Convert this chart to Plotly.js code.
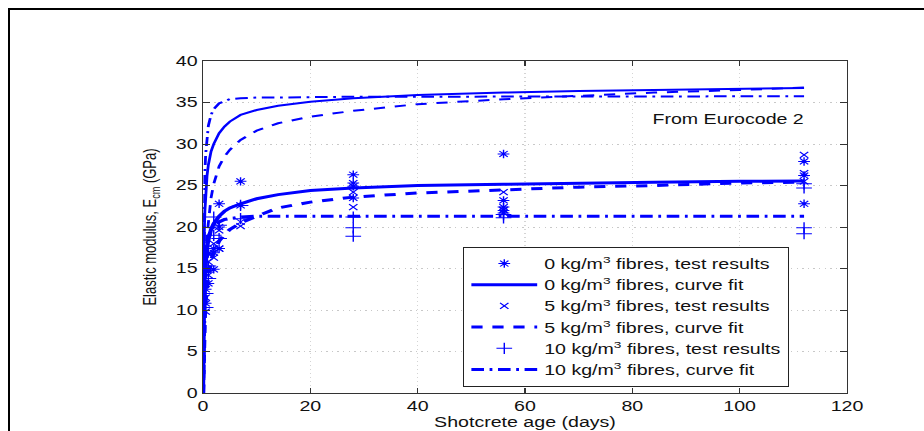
<!DOCTYPE html>
<html>
<head>
<meta charset="utf-8">
<script src="https://cdn.plot.ly/plotly-3.0.1.min.js"></script>
<style>
  html, body { margin: 0; padding: 0; background: #fff; width: 924px; height: 431px; overflow: hidden; }
  #wrap { position: absolute; left: 0; top: 0; width: 660px; height: 431px; transform: scaleX(1.4); transform-origin: 0 0; }
  #plot { width: 660px; height: 431px; }
  #frame { position: absolute; left: 8px; top: 8px; width: 1000px; height: 1000px; border: 2px solid #000; pointer-events: none; }
</style>
</head>
<body>
<div id="wrap"><div id="plot"></div></div>
<div id="frame"></div>
<script>
// Curve-fit ages (days)
const tFit = [0, 0.02, 0.05, 0.1, 0.2, 0.35, 0.5, 0.75, 1, 1.5, 2, 3, 4, 5, 7, 10, 14, 20, 28, 40, 56, 70, 84, 100, 112];

// Eurocode 2 curves (upper group)
const ec2Solid   = [0, 4.0, 8.5, 13.9, 18.5, 21.9, 24.1, 26.2, 27.5, 29.1, 30.0, 31.3, 32.1, 32.7, 33.5, 34.1, 34.6, 35.1, 35.5, 35.9, 36.2, 36.4, 36.5, 36.65, 36.75];
const ec2Dashed  = [0, 0.6, 2.5, 5.5, 9.7, 13.5, 16.0, 19.0, 21.0, 23.5, 25.2, 27.3, 28.5, 29.3, 30.5, 31.6, 32.5, 33.3, 34.0, 34.8, 35.4, 35.8, 36.2, 36.5, 36.8];
const ec2DashDot = [0, 3.0, 8.0, 15.0, 22.0, 26.5, 28.8, 31.0, 32.2, 33.5, 34.2, 34.9, 35.2, 35.4, 35.5, 35.6, 35.6, 35.65, 35.7, 35.7, 35.7, 35.7, 35.75, 35.75, 35.75];

// Curve fits to test results (lower group)
const fit0  = [0, 2.5, 5.0, 8.5, 12.0, 14.5, 16.0, 17.5, 18.5, 19.7, 20.4, 21.3, 21.9, 22.3, 22.8, 23.4, 23.9, 24.4, 24.7, 25.0, 25.15, 25.3, 25.4, 25.5, 25.55];
const fit5  = [0, 0.8, 2.0, 4.0, 7.0, 9.5, 11.2, 13.0, 14.3, 15.9, 17.0, 18.3, 19.1, 19.7, 20.5, 21.3, 22.3, 23.0, 23.6, 24.1, 24.5, 24.8, 25.0, 25.3, 25.4];
const fit10 = [0, 1.5, 4.0, 7.5, 11.5, 14.5, 16.2, 17.8, 18.7, 19.6, 20.1, 20.6, 20.9, 21.0, 21.2, 21.3, 21.3, 21.3, 21.3, 21.3, 21.3, 21.3, 21.3, 21.3, 21.3];

// Test results
const tTest0 = [0.5, 0.5, 1, 1, 1, 2, 2, 2, 3, 3, 3, 7, 7, 28, 28, 28, 28, 56, 56, 56, 56, 56, 112, 112, 112];
const eTest0 = [12.5, 10.8, 16.8, 15.0, 13.2, 17.4, 16.9, 14.9, 22.8, 20.0, 17.4, 25.5, 22.6, 26.3, 25.3, 24.9, 23.5, 28.8, 23.2, 22.4, 22.0, 21.7, 27.9, 26.2, 22.8];

const tTest5 = [0.5, 0.5, 1, 1, 2, 2, 3, 3, 7, 7, 28, 28, 56, 56, 112, 112, 112];
const eTest5 = [11.5, 9.8, 15.8, 14.2, 18.0, 16.3, 19.6, 17.4, 20.6, 20.1, 24.2, 22.4, 24.2, 22.1, 28.7, 26.5, 25.5];

const tTest10 = [0.5, 0.5, 1, 1, 2, 2, 3, 3, 7, 7, 28, 28, 28, 56, 56, 112, 112, 112, 112];
const eTest10 = [12.0, 10.3, 15.3, 13.8, 21.2, 19.0, 20.2, 18.6, 22.6, 21.0, 21.2, 19.9, 18.9, 21.5, 21.1, 25.2, 24.7, 19.9, 19.2];

const xTicks = [0, 20, 40, 60, 80, 100, 120];
const yTicks = [0, 5, 10, 15, 20, 25, 30, 35, 40];

const BLUE = '#0000ff';
const FONT = 'Liberation Sans, Arial, sans-serif';
const DASH = '8px,7px';
const DASHDOT = '9px,4px,2px,4px';

const traces = [
  {x: tTest0, y: eTest0, mode: 'markers', name: '0 kg/m<sup>3</sup> fibres, test results',
   marker: {symbol: 'asterisk-open', size: 7, color: BLUE, line: {color: BLUE, width: 1}}},
  {x: tFit, y: fit0, mode: 'lines', name: '0 kg/m<sup>3</sup> fibres, curve fit',
   line: {color: BLUE, width: 3}},
  {x: tTest5, y: eTest5, mode: 'markers', name: '5 kg/m<sup>3</sup> fibres, test results',
   marker: {symbol: 'x-thin-open', size: 6, color: BLUE, line: {color: BLUE, width: 1}}},
  {x: tFit, y: fit5, mode: 'lines', name: '5 kg/m<sup>3</sup> fibres, curve fit',
   line: {color: BLUE, width: 3, dash: DASH}},
  {x: tTest10, y: eTest10, mode: 'markers', name: '10 kg/m<sup>3</sup> fibres, test results',
   marker: {symbol: 'cross-thin-open', size: 8, color: BLUE, line: {color: BLUE, width: 1}}},
  {x: tFit, y: fit10, mode: 'lines', name: '10 kg/m<sup>3</sup> fibres, curve fit',
   line: {color: BLUE, width: 3, dash: DASHDOT}},
  {x: tFit, y: ec2Solid, mode: 'lines', showlegend: false, line: {color: BLUE, width: 2}},
  {x: tFit, y: ec2Dashed, mode: 'lines', showlegend: false, line: {color: BLUE, width: 2, dash: DASH}},
  {x: tFit, y: ec2DashDot, mode: 'lines', showlegend: false, line: {color: BLUE, width: 2, dash: DASHDOT}}
];

const axisCommon = {
  showline: true, linecolor: '#333', linewidth: 1, mirror: 'ticks',
  ticks: 'inside', ticklen: 5, tickcolor: '#333', tickwidth: 1,
  showgrid: true, gridcolor: '#c8c8c8', griddash: '1px,3px', gridwidth: 1,
  zeroline: false, tickfont: {family: FONT, size: 14, color: '#111'}
};

const layout = {
  width: 660, height: 431,
  margin: {l: 145, r: 55, t: 61, b: 38},
  paper_bgcolor: '#fff', plot_bgcolor: '#fff',
  font: {family: FONT, size: 14, color: '#111'},
  xaxis: Object.assign({}, axisCommon, {
    range: [0, 120], tickvals: xTicks, ticktext: xTicks.map(String),
    gridcolor: '#d4d4d4',
    title: {text: 'Shotcrete age (days)', font: {family: FONT, size: 14, color: '#111'}, standoff: 2}
  }),
  yaxis: Object.assign({}, axisCommon, {
    range: [0, 40], tickvals: yTicks, ticktext: yTicks.map(String),
    title: {text: 'Elastic modulus, E<sub>cm</sub> (GPa)', font: {family: FONT, size: 13, color: '#111'}, standoff: 10}
  }),
  showlegend: true,
  legend: {
    x: 0.4037, y: 0.44, xanchor: 'left', yanchor: 'top',
    bgcolor: '#fff', bordercolor: '#222', borderwidth: 1,
    font: {family: FONT, size: 14, color: '#111'},
    itemwidth: 47, tracegroupgap: 0
  },
  annotations: [{
    x: 112.4, y: 33.05, xref: 'x', yref: 'y', xanchor: 'right', yanchor: 'middle',
    text: 'From Eurocode 2', showarrow: false, font: {family: FONT, size: 14, color: '#111'}
  }]
};

Plotly.newPlot('plot', traces, layout, {staticPlot: true, displayModeBar: false});
</script>
</body>
</html>
